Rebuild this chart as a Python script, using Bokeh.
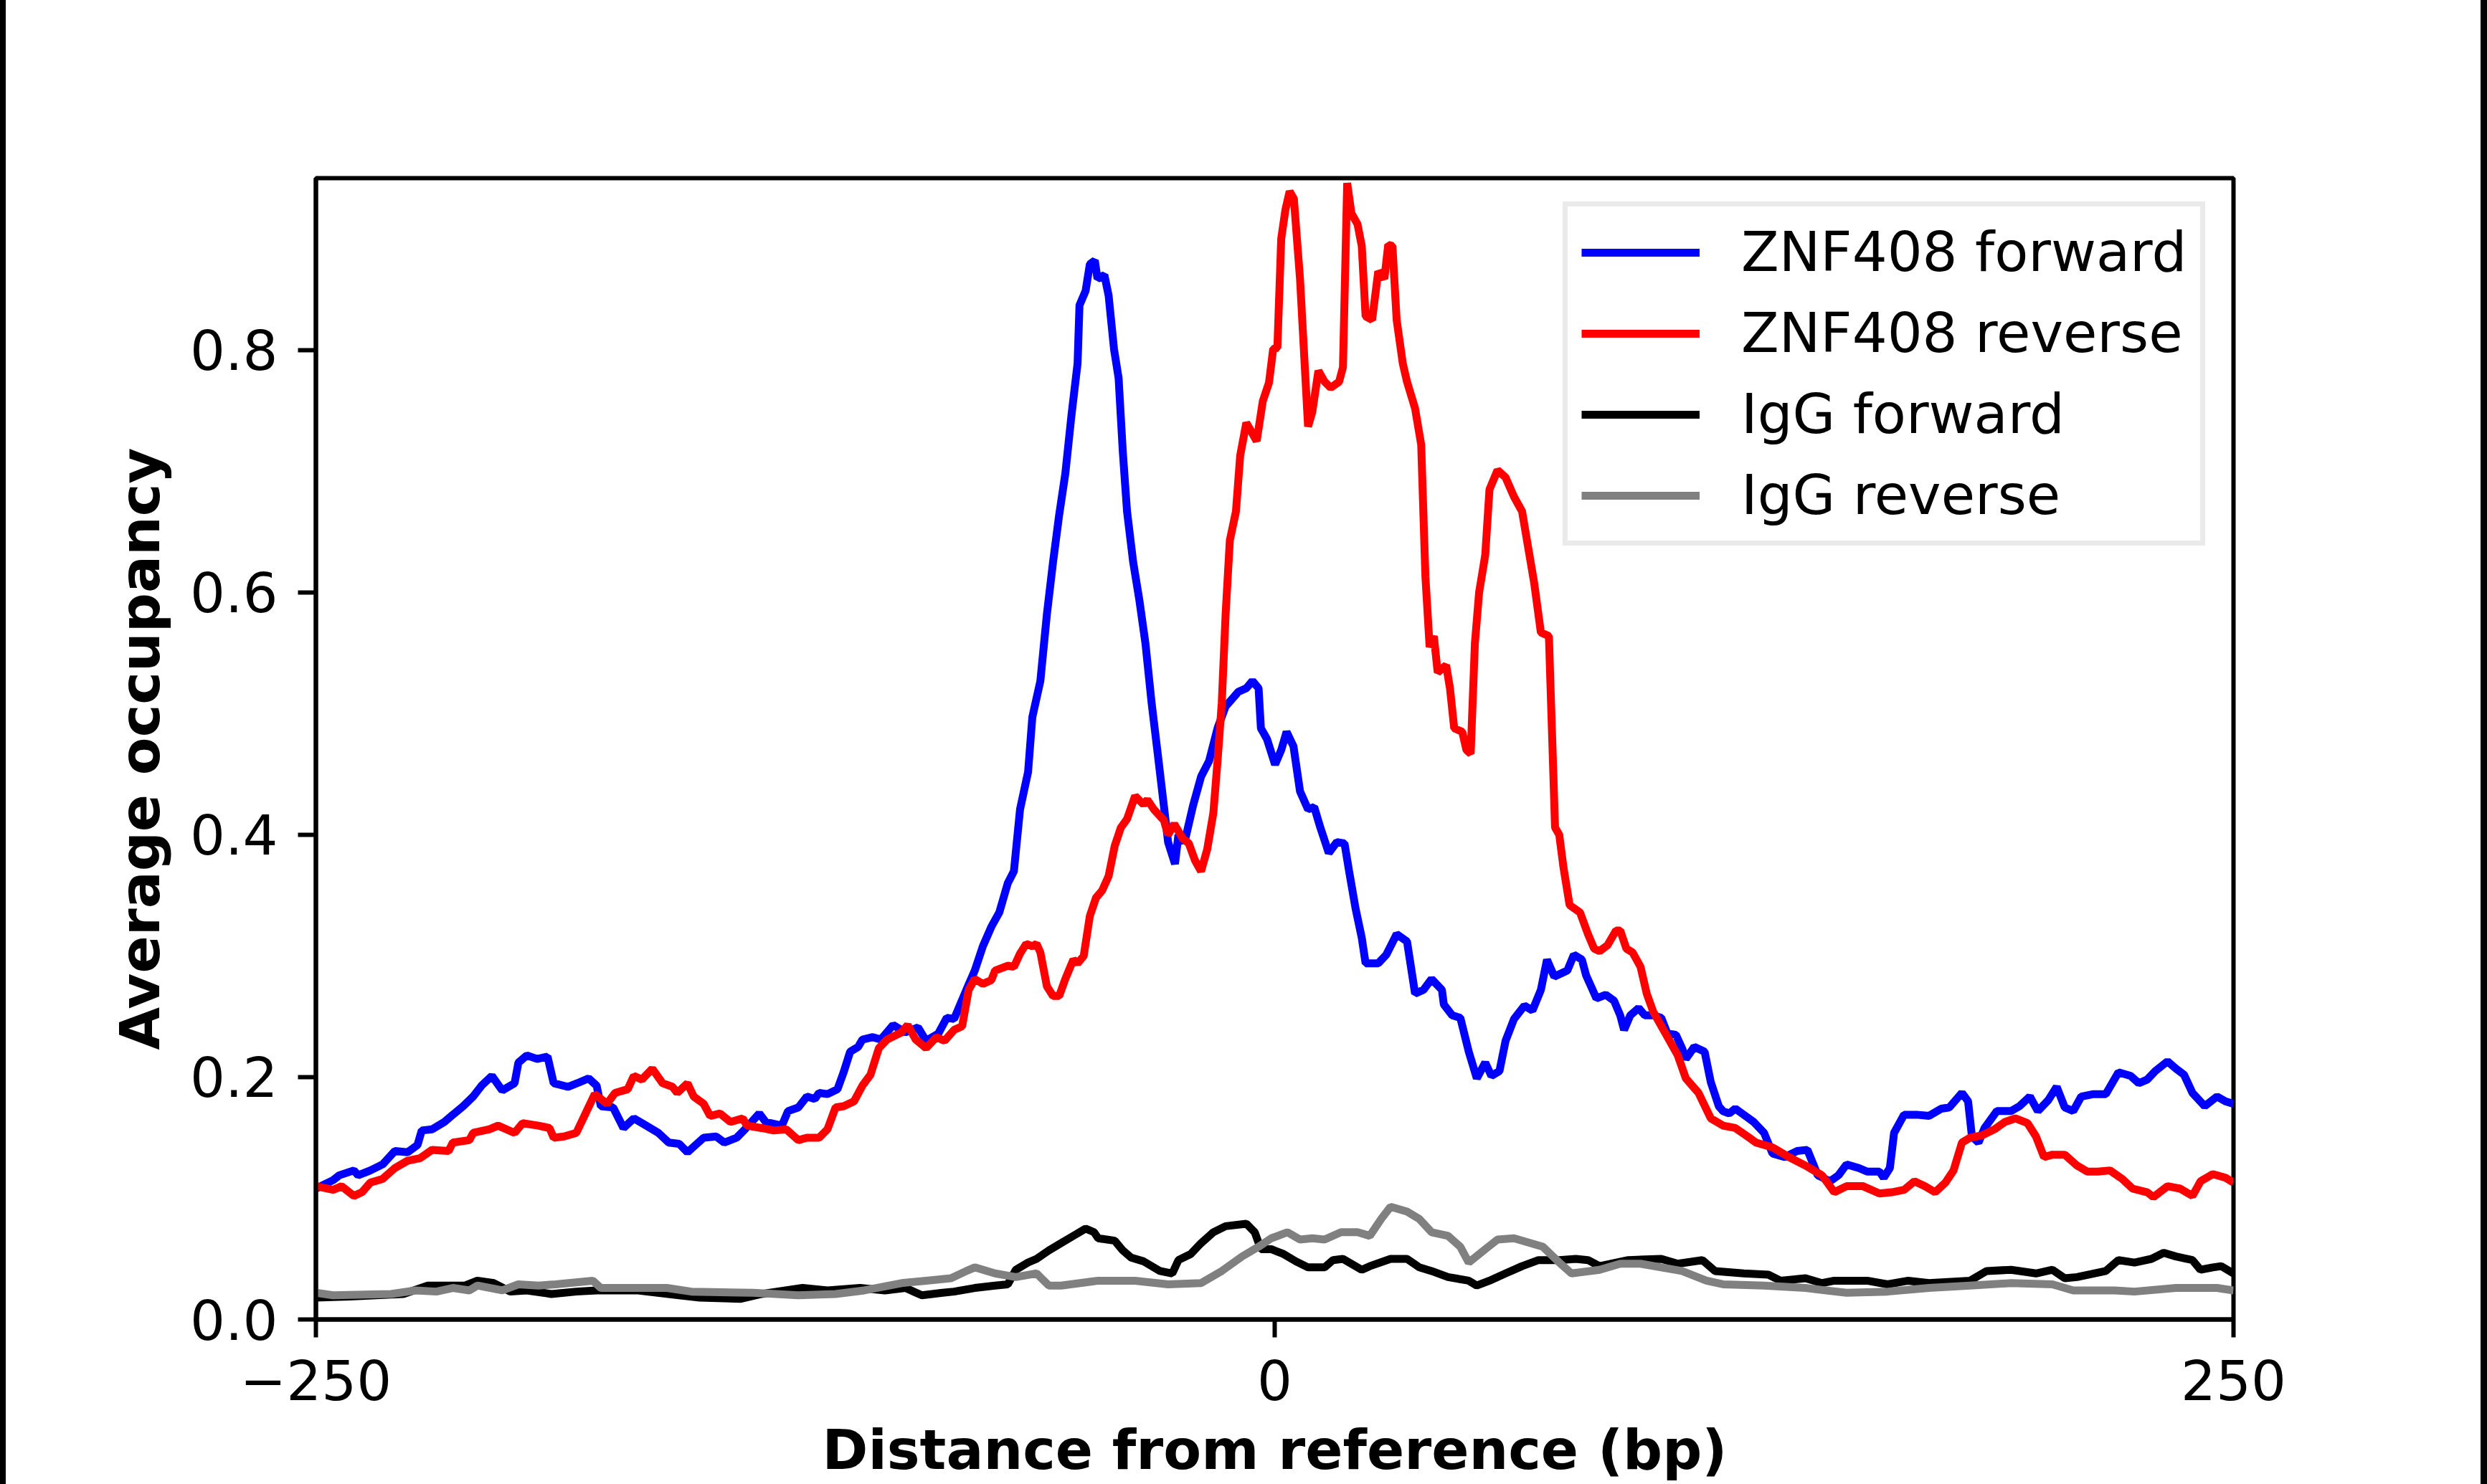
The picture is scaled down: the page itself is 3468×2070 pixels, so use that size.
from bokeh.plotting import figure
from bokeh.models import Range1d, FixedTicker, PrintfTickFormatter, Div
from bokeh.layouts import row
from bokeh.embed import file_html
from bokeh.resources import INLINE

# ---------------- data ----------------
x_ticks = [-250, 0, 250]
x_tick_labels = ["\u2212250", "0", "250"]
y_ticks = [0.0, 0.2, 0.4, 0.6, 0.8]

series_names = ["ZNF408 forward", "ZNF408 reverse", "IgG forward", "IgG reverse"]
series_colors = ["#0000ff", "#ff0000", "#000000", "#808080"]

znf_fwd_x = [-250, -245.5, -243.9, -240.1, -239, -235.8, -232.6, -229.4, -226.1, -223.5, -222.4, -219.7,
             -216.5, -214.3, -211.6, -209, -206.8, -204.1, -201.4, -198.2, -197.2, -195, -192.3, -189.6,
             -188, -184.3, -181.1, -178.9, -176.8, -175.7, -172.5, -169.8, -167.1, -163.9, -160.7, -158,
             -155.3, -153.1, -148.9, -145.6, -143.5, -140.3, -138.1, -134.4, -132.7, -128.5, -126.9, -124.2,
             -122, -119.9, -118.8, -116.6, -114, -112.4, -110.7, -108.6, -107.5, -104.8, -102.7, -99.5,
             -96.3, -93, -90.9, -87.7, -85.5, -83.6,
             -80.4, -78.2, -76.1, -73.9, -71.8, -69.6, -68, -66.4, -64.3, -63.2, -61.1, -59.4, -57.8, -56.2,
             -54.6, -53, -51.4, -50.9, -49.3, -48.2, -46.9, -46.2, -44.4, -43.3, -41.9, -40.7, -39.6, -38.5,
             -36.9, -35.3, -33.7, -32.1, -30.5, -28.9, -27.8, -26, -25.1, -23.5, -21.3, -19.2, -17.1, -14.9,
             -12.8, -9.5, -7.4, -5.8, -4.2, -3.6, -2, 0.1, 1.7, 3.1, 4.9, 6.6, 8.7, 10.3, 11.9, 14.1, 16.2,
             18.2, 19.4, 21.1, 22.7, 23.7, 27, 29.1, 31.8, 34.5, 36.6, 38.8, 40.9, 43.6, 44.1, 46.3, 48.4,
             50.6, 52.7, 54.9, 56.5, 58.6, 60.2, 62.4, 65.1, 67.2, 69.4, 71, 72.9, 76.3, 78, 80.1, 81.2, 83.9,
             86.3, 88.5, 90.1, 91.1, 92.7, 94.9, 96.5, 98.7, 100.8, 102.4, 104.6, 106.2, 107.2, 109.4, 112.1,
             113.7, 115.8, 116.9, 118.5, 120.1, 122.3, 124.9, 127.6, 129.8, 133, 136.2, 138.9, 141.6, 144.8,
             147, 149.1, 152.3, 154.5, 157.7, 158.8, 160.4, 161.5, 164.1, 167.4, 170.6, 173.8, 175.9, 179.2,
             180.8, 181.8, 183.5, 185.1, 188.3, 192, 194.2, 196.9, 199, 201.7, 203.9, 206, 208.2, 210.3,
             213.5, 216.7, 220, 223.2, 225.3, 227.5, 229.6, 232.8, 235, 237.1, 239.3, 242.5, 245.7, 247.9, 250]
znf_fwd_y = [0.108, 0.115, 0.119, 0.123, 0.119, 0.123, 0.128, 0.139, 0.138, 0.144, 0.156, 0.157,
             0.163, 0.169, 0.176, 0.184, 0.193, 0.201, 0.189, 0.195, 0.212, 0.218, 0.215, 0.217,
             0.195, 0.192, 0.196, 0.199, 0.193, 0.176, 0.175, 0.158, 0.166, 0.160, 0.154, 0.146,
             0.145, 0.138, 0.150, 0.151, 0.146, 0.150, 0.157, 0.170, 0.163, 0.160, 0.172, 0.175,
             0.184, 0.182, 0.187, 0.186, 0.190, 0.204, 0.221, 0.225, 0.231, 0.233, 0.231, 0.243,
             0.237, 0.241, 0.230, 0.236, 0.249, 0.248,
             0.272, 0.288, 0.308, 0.324, 0.336, 0.360, 0.370, 0.421, 0.452, 0.497, 0.527, 0.582, 0.625, 0.664,
             0.698, 0.746, 0.789, 0.837, 0.849, 0.871, 0.874, 0.859, 0.862, 0.845, 0.801, 0.777, 0.716, 0.667,
             0.625, 0.594, 0.558, 0.509, 0.467, 0.424, 0.394, 0.376, 0.400, 0.394, 0.424, 0.448, 0.461, 0.488,
             0.506, 0.518, 0.521, 0.527, 0.521, 0.488, 0.479, 0.458, 0.470, 0.485, 0.473, 0.436, 0.421, 0.423,
             0.406, 0.385, 0.394, 0.393, 0.370, 0.339, 0.315, 0.294, 0.294, 0.301, 0.318, 0.312, 0.269, 0.272,
             0.281, 0.272, 0.260, 0.251, 0.249, 0.221, 0.199, 0.212, 0.201, 0.205, 0.230, 0.248, 0.259, 0.255,
             0.272, 0.297, 0.283, 0.288, 0.301, 0.297, 0.284, 0.265,
             0.268, 0.263, 0.251, 0.239, 0.251, 0.257, 0.251, 0.251, 0.249, 0.236, 0.235, 0.224, 0.215, 0.225,
             0.221, 0.196, 0.176, 0.172, 0.170, 0.174, 0.169, 0.163, 0.154, 0.137, 0.134, 0.139, 0.140, 0.119,
             0.114, 0.119, 0.128, 0.125, 0.122, 0.122, 0.117, 0.125, 0.154, 0.169, 0.169, 0.168, 0.174, 0.175,
             0.187, 0.180, 0.151, 0.146, 0.158, 0.172, 0.172, 0.176, 0.184, 0.172, 0.181, 0.192, 0.175, 0.172,
             0.184, 0.186, 0.186, 0.204, 0.201, 0.195, 0.198, 0.205, 0.213, 0.207, 0.202, 0.187, 0.176, 0.184,
             0.180, 0.178]

znf_rev_x = [-250, -245.5, -243.3, -240.1, -238, -235.8, -232.6, -229.4, -226.1, -222.9, -219.7, -215.4,
             -214.3, -210, -209, -204.7, -202.5, -198.2, -196.1, -192, -189.1, -188, -185.3, -182.1, -180,
             -177.3, -174.1, -172, -168.7, -167.1, -165, -162.3, -159.6, -157, -155.8, -153.1, -151.5, -148.9,
             -147.2, -144.6, -141.9, -138.7, -137.6, -133.8, -130.6, -127.4, -124.2, -122, -118.8, -116.6,
             -114.5, -112.4, -109.7, -107.5, -105.4, -103.2, -101.1, -97.3, -95.7, -93.6, -90.9, -88.2, -86.1,
             -83.6, -81.5, -79.8, -78.2, -76.1, -73.9, -72.9, -69.6, -68, -66.4, -64.8, -63.2, -62.1, -61.1,
             -59.4, -57.8, -56.2, -54.6, -52.5, -51.4, -49.8, -48.2, -46.6, -45, -43.3, -41.7, -40.1, -38.5,
             -36.4, -34.2, -33.2, -31.5, -28.9, -27.8, -26.2, -24, -22.4, -20.8, -19.2, -17.6, -16, -14.9,
             -13.8, -12.8, -11.7, -10.1, -9, -7.4, -6.3, -4.7, -3.1, -1.5, -0.4, 0.7, 1.7, 2.8, 3.9, 5, 6.6,
             8.7, 9.8, 11.4, 13, 14.6, 16.8, 17.8, 18.9, 20, 21.6, 22.7, 23.7, 25.4, 27, 28.6, 29.6, 30.7,
             31.8, 33.4, 34.5, 36.6, 38.2, 39.3, 40.4, 41.5, 42.5, 44.7, 45.7, 46.8, 48.9, 50, 51.1, 52.2,
             53.3, 54.9, 56, 58.1, 60.2, 62.4, 64.5, 66.1, 67.7, 69.4, 71.5, 73.1, 74.2, 75.3, 76.9, 79.6,
             81.7, 83.3, 84.7, 86.8, 89, 90.1, 91.7, 93.3, 95.4, 97, 98.7, 101.9, 105.1, 107.2, 110.5, 113.7,
             116.9, 120.1, 123.3, 125.5, 129.8, 134.1, 138.4, 142.7, 145.9, 149.1, 153.4, 157.7, 160.9, 164.1,
             166.8, 169.5, 172.2, 174.9, 177, 179.2, 181.3, 184.5, 187.7, 190.4, 193.1, 196.3, 198.5, 200.6,
             202.8, 206, 209.2, 211.9, 214.6, 217.8, 221, 223.7, 227.5, 229.1, 232.8, 236.1, 239.3, 241.4,
             244.6, 247.9, 250]
znf_rev_y = [0.110, 0.107, 0.110, 0.102, 0.105, 0.113, 0.116, 0.125, 0.131, 0.133, 0.140, 0.139,
             0.146, 0.148, 0.154, 0.157, 0.160, 0.154, 0.162, 0.160, 0.158, 0.150, 0.151, 0.154, 0.168,
             0.186, 0.178, 0.187, 0.190, 0.201, 0.198, 0.207, 0.195, 0.192, 0.187, 0.195, 0.184, 0.178,
             0.168, 0.170, 0.163, 0.166, 0.160, 0.158, 0.156, 0.157, 0.148, 0.150, 0.150, 0.157,
             0.175, 0.176, 0.180, 0.193, 0.202, 0.224, 0.231, 0.237, 0.243, 0.231, 0.224, 0.233, 0.230,
             0.239, 0.242, 0.272, 0.281, 0.277, 0.280, 0.288, 0.292, 0.291, 0.302, 0.310, 0.308, 0.310, 0.303,
             0.275, 0.267, 0.267, 0.281, 0.297, 0.294, 0.300, 0.333, 0.348, 0.354, 0.366, 0.391, 0.406, 0.413,
             0.432, 0.425, 0.429, 0.421, 0.412, 0.400, 0.409, 0.397, 0.393, 0.379, 0.370, 0.388, 0.418, 0.461,
             0.509, 0.582, 0.643, 0.667, 0.713, 0.740, 0.734, 0.725, 0.758, 0.773, 0.801, 0.802, 0.892, 0.916,
             0.931, 0.925, 0.859, 0.737, 0.749, 0.783, 0.774, 0.769, 0.774, 0.786, 0.938, 0.913, 0.904, 0.886,
             0.828, 0.825, 0.865, 0.859, 0.887, 0.886, 0.825, 0.789, 0.774, 0.752, 0.722, 0.613, 0.555, 0.564,
             0.534, 0.540, 0.521, 0.488, 0.485, 0.470, 0.467, 0.558, 0.600, 0.631, 0.685, 0.701, 0.695, 0.679,
             0.667, 0.637, 0.607, 0.567, 0.564, 0.406, 0.400, 0.373, 0.342, 0.336, 0.318, 0.306, 0.304, 0.309,
             0.321, 0.321, 0.306, 0.303, 0.291, 0.269, 0.254, 0.236, 0.218, 0.199, 0.187, 0.166, 0.160, 0.158,
             0.151, 0.146, 0.142, 0.134, 0.127, 0.119, 0.105, 0.110, 0.110, 0.104, 0.105, 0.107, 0.114, 0.110,
             0.105, 0.113, 0.123, 0.146, 0.150, 0.152, 0.157, 0.163, 0.166, 0.162, 0.151, 0.134, 0.136, 0.136,
             0.127, 0.122, 0.122, 0.123, 0.116, 0.108, 0.105, 0.101, 0.110, 0.108, 0.102, 0.114, 0.120, 0.117,
             0.113]

igg_fwd_x = [-250, -241.2, -227.2, -220.8, -211.1, -207.9, -203.6, -199.3, -195, -188.6, -182.1, -176.8,
             -166, -155.3, -149.9, -139.2, -133.8, -123.1, -116.6, -108.1, -101.6, -96.3, -92, -86.6, -83.6,
             -78.2, -72.9, -69.6, -67.5, -64.3, -62.1, -58.9, -55.7, -52.5, -49.3, -47.1, -46, -41.7, -39.6,
             -37.4, -34.2, -29.9, -26.7, -25.1, -21.9, -19.2, -16, -12.8, -7.4, -5.2, -3.6, -0.9, 2.3, 5.5,
             8.7, 13, 15.2, 17.8, 22.7, 24.8, 30.2, 34.5, 37.7, 40.9, 45.2, 50.6, 52.7, 56, 60.2, 64.5, 68.8,
             74.2, 78.5, 81.7, 84.7, 92.2, 100.8, 105.1, 111.5, 114.8, 122.3, 128.7, 131.9, 138.4, 142.7,
             145.9, 154.5, 159.8, 165.2, 170.6, 181.3, 185.6, 192, 198.5, 202.8, 206, 209.2, 216.7, 220,
             224.2, 228.6, 231.8, 235, 239.3, 241.4, 244.6, 246.8, 250]
igg_fwd_y = [0.018, 0.019, 0.021, 0.028, 0.028, 0.032, 0.030, 0.023, 0.024, 0.021, 0.023, 0.024,
             0.024, 0.020, 0.018, 0.017, 0.021, 0.026, 0.024, 0.026, 0.024, 0.026, 0.020, 0.022, 0.023,
             0.026, 0.028, 0.029, 0.041, 0.047, 0.050, 0.057, 0.063, 0.069, 0.075, 0.072, 0.067, 0.065, 0.057,
             0.051, 0.048, 0.040, 0.038, 0.049, 0.054, 0.063, 0.072, 0.077, 0.079, 0.072, 0.058, 0.058, 0.054,
             0.048, 0.043, 0.043, 0.049, 0.050, 0.041, 0.044, 0.050, 0.050, 0.043, 0.040, 0.035, 0.032, 0.028,
             0.032, 0.038, 0.044, 0.049, 0.049, 0.050, 0.049, 0.044, 0.049, 0.050, 0.046, 0.049, 0.040, 0.038,
             0.037, 0.032, 0.034, 0.030, 0.032, 0.032, 0.029, 0.032, 0.030, 0.032, 0.040, 0.041, 0.038, 0.041,
             0.034, 0.035, 0.040, 0.049, 0.047, 0.050, 0.055, 0.052, 0.049, 0.041, 0.043, 0.044, 0.038]

igg_rev_x = [-250, -245.5, -230.4, -224, -218.6, -214.3, -210, -207.9, -201.4, -197.2, -192, -187.5,
             -177.8, -175.7, -166, -158.5, -152.1, -136, -124.2, -114.5, -107, -97.3, -90.9, -84.4, -80.4,
             -78.2, -72.9, -67.5, -62.1, -58.9, -55.7, -46, -36.4, -27.8, -19.2, -13.8, -8.5, -4.2, -0.9, 3.3,
             6.6, 9.8, 13, 17.3, 21.6, 24.8, 28, 30.2, 34.5, 37.7, 40.9, 45.2, 48.4, 50.6, 54.9, 58.1, 62.4,
             66.7, 69.9, 74.2, 77.4, 84.7, 90.1, 95.4, 100.8, 106.2, 112.6, 116.9, 127.6, 138.4, 149.1, 159.8,
             170.6, 181.3, 192, 202.8, 208.2, 219, 224.2, 235, 245.7, 250]
igg_rev_y = [0.022, 0.020, 0.021, 0.024, 0.023, 0.026, 0.024, 0.028, 0.024, 0.029, 0.028, 0.029,
             0.032, 0.026, 0.026, 0.026, 0.023, 0.022, 0.020, 0.021, 0.024, 0.030, 0.032, 0.034, 0.040,
             0.043, 0.038, 0.035, 0.038, 0.028, 0.028, 0.032, 0.032, 0.029, 0.030, 0.040, 0.052, 0.060, 0.067,
             0.072, 0.066, 0.067, 0.066, 0.072, 0.072, 0.069, 0.084, 0.093, 0.089, 0.083, 0.072, 0.069, 0.060,
             0.047, 0.058, 0.066, 0.067, 0.063, 0.060, 0.047, 0.038, 0.041, 0.046, 0.046, 0.043, 0.040, 0.032,
             0.029, 0.028, 0.026, 0.022, 0.023, 0.026, 0.028, 0.030, 0.029, 0.024, 0.024, 0.023, 0.026, 0.026,
             0.024]

series_x = [znf_fwd_x, znf_rev_x, igg_fwd_x, igg_rev_x]
series_y = [znf_fwd_y, znf_rev_y, igg_fwd_y, igg_rev_y]

x_title = "Distance from reference (bp)"
y_title = "Average occupancy"

FONT = "DejaVu Sans"
FS = "77px"

# ---------------- figure ----------------
W, H = 3451, 2070
p = figure(width=W, height=H, output_backend="svg", toolbar_location=None,
           x_range=Range1d(-250, 250), y_range=Range1d(0, 0.942),
           min_border_left=432, min_border_right=345, min_border_top=248, min_border_bottom=230)

p.background_fill_color = "white"
p.border_fill_color = "white"
p.outline_line_color = "black"
p.outline_line_width = 6
p.grid.grid_line_color = None

for xs, ys, name, col in zip(series_x, series_y, series_names, series_colors):
    p.line(xs, ys, line_color=col, line_width=11, legend_label=name)

for ax in (p.xaxis[0], p.yaxis[0]):
    ax.axis_line_width = 6
    ax.axis_line_color = "black"
    ax.major_tick_line_width = 6
    ax.major_tick_line_color = "black"
    ax.major_tick_in = 0
    ax.major_tick_out = 25
    ax.minor_tick_line_color = None
    ax.major_label_text_font = FONT
    ax.major_label_text_font_size = FS
    ax.major_label_text_color = "black"
    ax.axis_label_text_font = FONT
    ax.axis_label_text_font_size = FS
    ax.axis_label_text_font_style = "bold"
    ax.axis_label_text_color = "black"

p.xaxis.ticker = FixedTicker(ticks=x_ticks)
p.xaxis.major_label_overrides = {t: l for t, l in zip(x_ticks, x_tick_labels)}
p.xaxis.major_label_standoff = 31
p.xaxis.axis_label = x_title
p.xaxis.axis_label_standoff = 22

p.yaxis.ticker = FixedTicker(ticks=y_ticks)
p.yaxis.formatter = PrintfTickFormatter(format="%.1f")
p.yaxis.major_label_standoff = 28
p.yaxis.axis_label = y_title
p.yaxis.axis_label_standoff = 22

leg = p.legend[0]
leg.location = (1739, 1079)
leg.border_line_color = "#d6d6d6"
leg.border_line_width = 7
leg.background_fill_color = "white"
leg.background_fill_alpha = 1.0
leg.padding = 19
leg.margin = 0
leg.spacing = 24
leg.glyph_width = 165
leg.glyph_height = 60
leg.label_standoff = 58
leg.label_text_font = FONT
leg.label_text_font_size = FS
leg.label_text_color = "black"

# black edge strips seen at both sides of the picture
left_strip = Div(text="", width=8, height=H, margin=(0, 0, 0, 0), styles={"background-color": "black"})
right_strip = Div(text="", width=9, height=H, margin=(0, 0, 0, 0), styles={"background-color": "black"})
layout = row(left_strip, p, right_strip, spacing=0)

open("out.html", "w").write(file_html(layout, INLINE))
